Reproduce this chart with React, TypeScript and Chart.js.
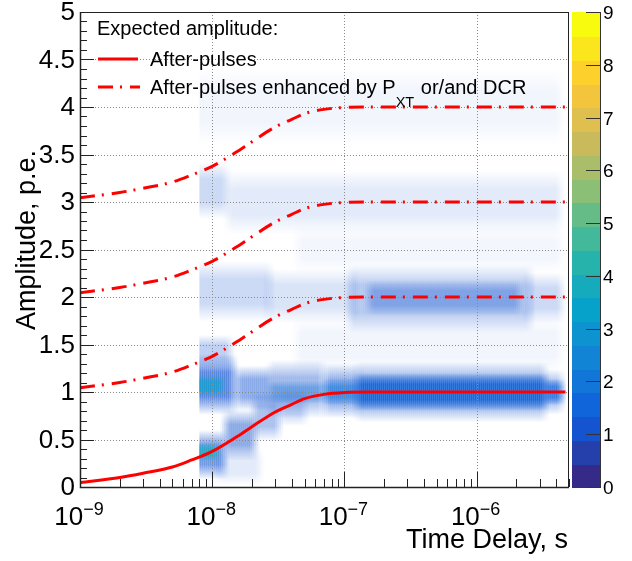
import React, { useEffect, useRef } from 'react';
import { Chart, registerables } from 'chart.js';

Chart.register(...registerables);

// ---------- curves (expected amplitude) ----------
const curveTime = [1e-9, 2e-9, 3e-9, 5e-9, 7e-9, 1e-8, 1.5e-8, 2e-8, 3e-8, 4e-8, 5e-8, 7e-8, 1e-7, 1.5e-7, 2e-7, 4.7e-6];
const afterPulses = [0.045, 0.10, 0.145, 0.21, 0.285, 0.375, 0.52, 0.635, 0.79, 0.87, 0.93, 0.975, 0.995, 1.0, 1.0, 1.0];
const enhancedPlus1 = [1.045, 1.10, 1.145, 1.21, 1.285, 1.375, 1.52, 1.635, 1.79, 1.87, 1.93, 1.975, 1.995, 2.0, 2.0, 2.0];
const enhancedPlus2 = [2.045, 2.10, 2.145, 2.21, 2.285, 2.375, 2.52, 2.635, 2.79, 2.87, 2.93, 2.975, 2.995, 3.0, 3.0, 3.0];
const enhancedPlus3 = [3.045, 3.10, 3.145, 3.21, 3.285, 3.375, 3.52, 3.635, 3.79, 3.87, 3.93, 3.975, 3.995, 4.0, 4.0, 4.0];

// ---------- axis ticks ----------
const yTickValues = [0, 0.5, 1, 1.5, 2, 2.5, 3, 3.5, 4, 4.5, 5];
const yTickLabels = ['0', '0.5', '1', '1.5', '2', '2.5', '3', '3.5', '4', '4.5', '5'];
const xTickValues = [1e-9, 1e-8, 1e-7, 1e-6];
const xTickExponents = ['\u22129', '\u22128', '\u22127', '\u22126'];
const zTickValues = [0, 1, 2, 3, 4, 5, 6, 7, 8, 9];

// ---------- 2D histogram (regions of entries) ----------
const cellTimeFrom = [8e-9, 8e-9, 1.4e-8, 2.5e-8, 2.5e-8, 6.5e-8, 6.5e-8, 1.15e-7, 1.15e-7, 3.0e-6, 3.0e-6,
  8e-9, 8e-9, 1.15e-8, 1.9e-8, 3e-8, 1e-8,
  8e-9,
  8e-9, 2.4e-8, 1e-7, 1.4e-7, 2.2e-6,
  8e-9, 1.2e-8,
  8e-9,
  4e-8, 4e-8];
const cellTimeTo = [1.6e-8, 1.3e-8, 3e-8, 7.5e-8, 7.5e-8, 1.4e-7, 1.4e-7, 3.6e-6, 3.6e-6, 4.8e-6, 4.8e-6,
  1.35e-8, 1.2e-8, 2.3e-8, 3.5e-8, 5.5e-8, 2.5e-8,
  1.5e-8,
  3e-8, 1.3e-7, 2.8e-6, 2.3e-6, 4.8e-6,
  1.4e-8, 4.7e-6,
  4.7e-6,
  4.7e-6, 4.7e-6];
const cellAmpFrom = [0.76, 0.95, 0.80, 0.72, 0.88, 0.72, 0.86, 0.68, 0.80, 0.76, 0.86,
  0.08, 0.27, 0.28, 0.48, 0.64, 0.02,
  1.25,
  1.74, 1.72, 1.62, 1.80, 1.72,
  2.82, 2.66,
  3.6,
  1.2, 2.25];
const cellAmpTo = [1.40, 1.18, 1.28, 1.34, 1.12, 1.30, 1.14, 1.32, 1.20, 1.24, 1.14,
  0.60, 0.47, 0.82, 1.00, 1.04, 0.42,
  1.60,
  2.38, 2.30, 2.34, 2.18, 2.26,
  3.42, 3.34,
  4.4,
  1.8, 2.75];
const cellFill = [0.7, 0.7, 0.5, 0.4, 0.4, 0.5, 0.6, 0.5, 0.95, 0.4, 0.7,
  0.6, 0.7, 0.5, 0.35, 0.22, 0.12,
  0.28,
  0.22, 0.16, 0.32, 0.35, 0.22,
  0.22, 0.12,
  0.06,
  0.06, 0.05];
const cellCount = [1.3, 3.4, 1.2, 1.0, 2.0, 1.0, 1.8, 1.0, 1.6, 1.0, 1.4,
  1.3, 3.6, 1.2, 1.0, 1.0, 1.0,
  1.0,
  1.0, 1.0, 1.0, 1.3, 1.0,
  1.0, 1.0,
  1.0,
  1.0, 1.0];

// ---------- palette (ROOT kBird) ----------
const birdStops = [0, 0.125, 0.25, 0.375, 0.5, 0.625, 0.75, 0.875, 1];
const birdR = [0.2082, 0.0592, 0.0780, 0.0232, 0.1802, 0.5301, 0.8186, 0.9956, 0.9764];
const birdG = [0.1664, 0.3599, 0.5041, 0.6419, 0.7178, 0.7492, 0.7328, 0.7862, 0.9832];
const birdB = [0.5293, 0.8684, 0.8385, 0.7914, 0.6425, 0.4662, 0.3499, 0.1968, 0.0539];
const Z_MAX = 9;
const Z_BANDS = 20;
const DATA_START = 8e-9;

function bird(p: number): [number, number, number] {
  let i = 0;
  while (i < birdStops.length - 2 && p > birdStops[i + 1]) i++;
  const t = (p - birdStops[i]) / (birdStops[i + 1] - birdStops[i]);
  const c = (a: number[]) => Math.round(255 * (a[i] + t * (a[i + 1] - a[i])));
  return [c(birdR), c(birdG), c(birdB)];
}
function bandColor(band: number): [number, number, number] {
  return bird(band / (Z_BANDS - 1));
}
function zColor(z: number): [number, number, number] {
  const band = Math.max(0, Math.min(Z_BANDS - 1, Math.floor(z / (Z_MAX / Z_BANDS))));
  return bandColor(band);
}

const FONT = '"Liberation Sans", Arial, Helvetica, sans-serif';
const RED = '#ff0000';
const DASHDOT = [15, 7, 2, 8];
const EDGE = 10;

const histPlugin = {
  id: 'histPlugin',
  beforeDatasetsDraw(chart: any) {
    const { ctx, chartArea: ca, scales } = chart;
    const xs = scales.x;
    const ys = scales.y;
    ctx.save();
    ctx.beginPath();
    ctx.rect(ca.left, ca.top, ca.right - ca.left, ca.bottom - ca.top);
    ctx.clip();
    for (let i = 0; i < cellTimeFrom.length; i++) {
      const x0 = xs.getPixelForValue(cellTimeFrom[i]);
      const x1 = xs.getPixelForValue(cellTimeTo[i]);
      const yTop = ys.getPixelForValue(cellAmpTo[i]);
      const yBot = ys.getPixelForValue(cellAmpFrom[i]);
      const [r, g, b] = zColor(cellCount[i]);
      const a = cellFill[i];
      const grad = ctx.createLinearGradient(0, yTop, 0, yBot);
      grad.addColorStop(0, `rgba(${r},${g},${b},0)`);
      grad.addColorStop(0.3, `rgba(${r},${g},${b},${a})`);
      grad.addColorStop(0.7, `rgba(${r},${g},${b},${a})`);
      grad.addColorStop(1, `rgba(${r},${g},${b},0)`);
      ctx.fillStyle = grad;
      const sharpLeft = cellTimeFrom[i] <= DATA_START * 1.001;
      for (let px = x0; px < x1; px += 2) {
        const w = Math.min(2, x1 - px);
        const fl = sharpLeft ? 1 : Math.min(1, (px + 1 - x0) / EDGE);
        const fr = Math.min(1, (x1 - px - 1) / EDGE);
        ctx.globalAlpha = Math.max(0, Math.min(fl, fr));
        ctx.fillRect(px, yTop, w, yBot - yTop);
      }
    }
    ctx.globalAlpha = 1;
    // grid
    ctx.strokeStyle = '#8a8a8a';
    ctx.lineWidth = 1;
    ctx.setLineDash([1, 2]);
    for (const v of yTickValues) {
      if (v <= 0 || v >= 5) continue;
      const py = Math.round(ys.getPixelForValue(v)) + 0.5;
      ctx.beginPath();
      ctx.moveTo(ca.left, py);
      ctx.lineTo(ca.right, py);
      ctx.stroke();
    }
    for (const v of xTickValues) {
      if (v <= 1e-9) continue;
      const px = Math.round(xs.getPixelForValue(v)) + 0.5;
      ctx.beginPath();
      ctx.moveTo(px, ca.top);
      ctx.lineTo(px, ca.bottom);
      ctx.stroke();
    }
    ctx.restore();
  },
};

const overlayPlugin = {
  id: 'overlayPlugin',
  afterDraw(chart: any) {
    const { ctx, chartArea: ca, scales } = chart;
    const xs = scales.x;
    const ys = scales.y;
    const zs = scales.z;
    ctx.save();
    ctx.setLineDash([]);
    // frame
    ctx.strokeStyle = '#222';
    ctx.lineWidth = 1;
    ctx.strokeRect(ca.left + 0.5, ca.top + 0.5, ca.right - ca.left - 1, ca.bottom - ca.top);
    ctx.lineWidth = 1.5;
    ctx.beginPath();
    ctx.moveTo(ca.left + 0.5, ca.top);
    ctx.lineTo(ca.left + 0.5, ca.bottom + 0.5);
    ctx.lineTo(ca.right, ca.bottom + 0.5);
    ctx.stroke();

    // y ticks
    ctx.lineWidth = 1;
    ctx.strokeStyle = '#222';
    for (let k = 0; k <= 50; k++) {
      const v = k / 10;
      const py = Math.round(ys.getPixelForValue(v)) + 0.5;
      const len = k % 5 === 0 ? 14 : 7;
      ctx.beginPath();
      ctx.moveTo(ca.left, py);
      ctx.lineTo(ca.left + len, py);
      ctx.stroke();
    }
    // x ticks
    for (let d = -9; d <= -6; d++) {
      for (let m = 1; m <= 9; m++) {
        const v = m * Math.pow(10, d);
        if (v > 5.0001e-6) continue;
        const px = Math.round(xs.getPixelForValue(v)) + 0.5;
        const len = m === 1 ? 15 : 8;
        ctx.beginPath();
        ctx.moveTo(px, ca.bottom);
        ctx.lineTo(px, ca.bottom - len);
        ctx.stroke();
      }
    }

    // y tick labels
    ctx.fillStyle = '#000';
    ctx.font = `26px ${FONT}`;
    ctx.textAlign = 'right';
    ctx.textBaseline = 'middle';
    yTickValues.forEach((v, i) => {
      ctx.fillText(yTickLabels[i], ca.left - 5, ys.getPixelForValue(v) + 1);
    });
    // x tick labels (10^n)
    ctx.textAlign = 'left';
    ctx.textBaseline = 'alphabetic';
    xTickValues.forEach((v, i) => {
      const px = xs.getPixelForValue(v);
      ctx.font = `26px ${FONT}`;
      const wBase = ctx.measureText('10').width;
      ctx.font = `18px ${FONT}`;
      const wExp = ctx.measureText(xTickExponents[i]).width;
      const start = px - (wBase + wExp) / 2 - 1;
      ctx.font = `26px ${FONT}`;
      ctx.fillText('10', start, 525);
      ctx.font = `18px ${FONT}`;
      ctx.fillText(xTickExponents[i], start + wBase, 515);
    });

    // axis titles
    ctx.font = `27px ${FONT}`;
    ctx.textAlign = 'right';
    ctx.fillText('Time Delay, s', 568, 548);
    ctx.save();
    ctx.translate(35, 240);
    ctx.rotate(-Math.PI / 2);
    ctx.textAlign = 'center';
    ctx.fillText('Amplitude, p.e.', 0, 0);
    ctx.restore();

    // color bar
    const barL = 572;
    const barR = 600;
    for (let b = 0; b < Z_BANDS; b++) {
      const z0 = (b * Z_MAX) / Z_BANDS;
      const z1 = ((b + 1) * Z_MAX) / Z_BANDS;
      const yA = zs.getPixelForValue(z1);
      const yB = zs.getPixelForValue(z0);
      const [r, g, bb] = bandColor(b);
      ctx.fillStyle = `rgb(${r},${g},${bb})`;
      ctx.fillRect(barL, Math.floor(yA), barR - barL, Math.ceil(yB) - Math.floor(yA) + 1);
    }
    ctx.strokeStyle = '#333';
    ctx.lineWidth = 1;
    ctx.beginPath();
    ctx.moveTo(barR + 0.5, zs.getPixelForValue(Z_MAX));
    ctx.lineTo(barR + 0.5, zs.getPixelForValue(0) + 1);
    ctx.stroke();
    ctx.fillStyle = '#000';
    ctx.font = `19px ${FONT}`;
    ctx.textAlign = 'left';
    ctx.textBaseline = 'middle';
    zTickValues.forEach((v) => {
      const py = Math.round(zs.getPixelForValue(v)) + 0.5;
      ctx.strokeStyle = '#333';
      ctx.beginPath();
      ctx.moveTo(barR - 14, py);
      ctx.lineTo(barR, py);
      ctx.stroke();
      ctx.fillText(String(v), barR + 3, py + 1);
    });

    // legend
    ctx.textBaseline = 'alphabetic';
    ctx.textAlign = 'left';
    ctx.fillStyle = '#000';
    ctx.font = `20px ${FONT}`;
    ctx.fillText('Expected amplitude:', 97, 35);
    ctx.strokeStyle = RED;
    ctx.lineWidth = 3;
    ctx.beginPath();
    ctx.moveTo(98, 59);
    ctx.lineTo(138, 59);
    ctx.stroke();
    ctx.fillText('After-pulses', 150, 66);
    ctx.setLineDash(DASHDOT);
    ctx.beginPath();
    ctx.moveTo(98, 87);
    ctx.lineTo(140, 87);
    ctx.stroke();
    ctx.setLineDash([]);
    const part1 = 'After-pulses enhanced by P';
    ctx.fillText(part1, 150, 94);
    const w1 = ctx.measureText(part1).width;
    ctx.font = `14.5px ${FONT}`;
    ctx.fillText('XT', 150 + w1, 107);
    const w2 = ctx.measureText('XT').width;
    ctx.font = `20px ${FONT}`;
    ctx.fillText(' or/and DCR', 150 + w1 + w2 + 1, 94);
    ctx.restore();
  },
};

function series(ys: number[]) {
  return curveTime.map((t, i) => ({ x: t, y: ys[i] }));
}

export default function App() {
  const ref = useRef<HTMLCanvasElement | null>(null);
  useEffect(() => {
    if (!ref.current) return;
    const common = {
      borderColor: RED,
      borderWidth: 3,
      pointRadius: 0,
      fill: false,
      cubicInterpolationMode: 'monotone' as const,
    };
    const chart = new Chart(ref.current, {
      type: 'line',
      data: {
        datasets: [
          { label: 'After-pulses', data: series(afterPulses), ...common },
          { label: 'After-pulses enhanced (+1)', data: series(enhancedPlus1), borderDash: DASHDOT, ...common },
          { label: 'After-pulses enhanced (+2)', data: series(enhancedPlus2), borderDash: DASHDOT, ...common },
          { label: 'After-pulses enhanced (+3)', data: series(enhancedPlus3), borderDash: DASHDOT, ...common },
        ],
      },
      options: {
        responsive: false,
        animation: false,
        devicePixelRatio: 1,
        layout: { padding: { left: 80, top: 12, right: 63, bottom: 74 } },
        plugins: { legend: { display: false }, tooltip: { enabled: false }, title: { display: false } },
        scales: {
          x: { type: 'logarithmic', min: 1e-9, max: 5e-6, display: false },
          y: { type: 'linear', min: 0, max: 5, display: false },
          z: { type: 'linear', axis: 'y', min: 0, max: Z_MAX, display: false },
        },
      },
      plugins: [histPlugin, overlayPlugin],
    } as any);
    return () => chart.destroy();
  }, []);
  return (
    <div style={{ position: 'fixed', left: 0, top: 0, width: 632, height: 561, background: '#fff' }}>
      <canvas ref={ref} width={632} height={561} />
    </div>
  );
}
